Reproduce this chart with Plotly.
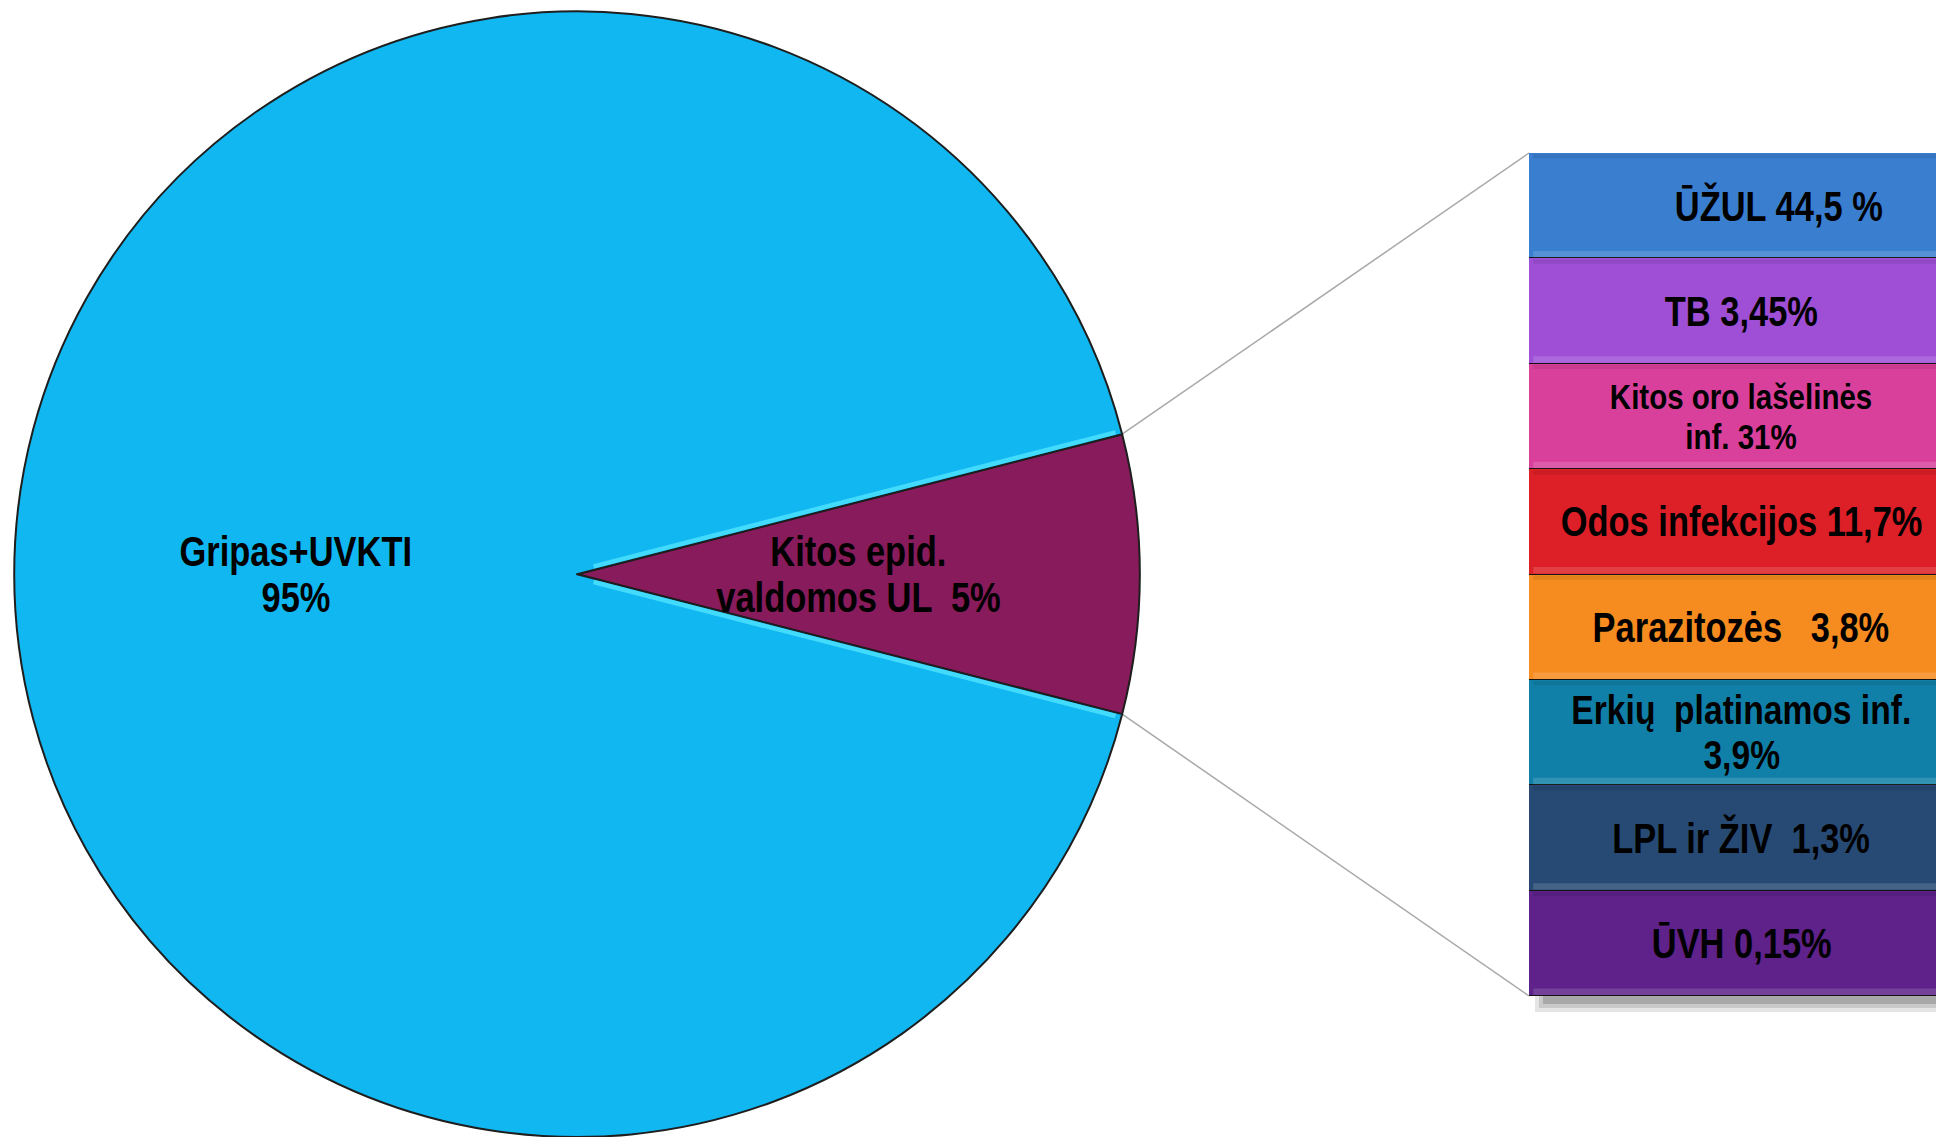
import math
import plotly.graph_objects as go

W, H = 1936, 1137

# ---------------- data ----------------
pie_labels = ["Kitos epid. valdomos UL", "Gripas+UVKTI"]
pie_values = [8, 92]                      # slice sizes as drawn in the picture
pie_text_lines = [["Kitos epid.", "valdomos UL  5%"], ["Gripas+UVKTI", "95%"]]
pie_colors = ["#871B5B", "#11B7F1"]

bar_categories = ["ŪŽUL", "TB", "Kitos oro lašelinės inf.", "Odos infekcijos",
                  "Parazitozės", "Erkių platinamos inf.", "LPL ir ŽIV", "ŪVH"]
bar_text_lines = [["ŪŽUL 44,5 %"], ["TB 3,45%"], ["Kitos oro lašelinės", "inf. 31%"],
                  ["Odos infekcijos 11,7%"], ["Parazitozės   3,8%"],
                  ["Erkių  platinamos inf.", "3,9%"], ["LPL ir ŽIV  1,3%"], ["ŪVH 0,15%"]]
bar_units = [1, 1, 1, 1, 1, 1, 1, 1]      # segments drawn with equal height
bar_colors = ["#3A7ED0", "#9E4FD6", "#D9409B", "#DD1F27",
              "#F68B1F", "#1180A8", "#274A74", "#5E228A"]
bar_font_sizes = [42, 42, 36, 42, 42, 41, 42, 42]
bar_text_xshift = [38, 0, 0, 0, 0, 0, 0, 0]

FONT = "Liberation Sans Narrow, Arial Narrow, Liberation Sans, Arial, sans-serif"
LINE_GAP = 1.1          # line spacing in em for multi-line labels
SQUEEZE = 0.82          # horizontal compression to mimic a narrow face

# ---------------- layout geometry ----------------
pie_dom_x = [0.0057, 0.5904]
pie_dom_y = [0.0, 0.99]
bar_dom_x = [1529 / W, 1.0]
bar_dom_y = [1 - 996 / H, 1 - 153 / H]
bar_px_width = 424

share = pie_values[0] / sum(pie_values)
half_angle = math.pi * share
rotation = 90 - math.degrees(half_angle)

fig = go.Figure()

fig.add_trace(go.Pie(
    labels=pie_labels, values=pie_values, sort=False, direction="clockwise",
    rotation=rotation, textinfo="none", hoverinfo="label+value",
    marker=dict(colors=pie_colors, line=dict(color="#1E1E1E", width=2)),
    domain=dict(x=pie_dom_x, y=pie_dom_y), showlegend=False,
))

for i, cat in enumerate(bar_categories):
    fig.add_trace(go.Bar(
        x=[0], y=[bar_units[i]], name=cat, xaxis="x2", yaxis="y2",
        width=1, marker=dict(color=bar_colors[i], line=dict(color="#141414", width=1.5)),
        showlegend=False, hoverinfo="name",
    ))

# pie geometry in pixels
cx = (pie_dom_x[0] + pie_dom_x[1]) / 2 * W
cy = H * (1 - (pie_dom_y[0] + pie_dom_y[1]) / 2)
r = min(W * (pie_dom_x[1] - pie_dom_x[0]), H * (pie_dom_y[1] - pie_dom_y[0])) / 2


def line_shifts(n, size):
    gap = LINE_GAP * size
    return [((n - 1) / 2 - k) * gap for k in range(n)]


annotations = []
PIE_SIZE = 42
bis = [0.0, math.pi]
for lines, a in zip(pie_text_lines, bis):
    px = cx + 0.5 * r * math.cos(a)
    py = cy - 0.5 * r * math.sin(a)
    for t, ys in zip(lines, line_shifts(len(lines), PIE_SIZE)):
        annotations.append(dict(x=px / W, y=1 - py / H, xref="paper", yref="paper",
                                text="<b>" + t + "</b>", showarrow=False, yshift=ys,
                                font=dict(family=FONT, size=PIE_SIZE, color="black"),
                                xanchor="center", yanchor="middle"))

cum = 0
for i, lines in enumerate(bar_text_lines):
    for t, ys in zip(lines, line_shifts(len(lines), bar_font_sizes[i])):
        annotations.append(dict(x=0, y=cum + bar_units[i] / 2, xref="x2", yref="y2",
                                text="<b>" + t + "</b>", showarrow=False,
                                xshift=bar_text_xshift[i], yshift=ys,
                                font=dict(family=FONT, size=bar_font_sizes[i], color="black"),
                                xanchor="center", yanchor="middle"))
    cum += bar_units[i]

shapes = []
# connector lines from the small slice edges to the bar corners
for sgn, by in [(1, bar_dom_y[1]), (-1, bar_dom_y[0])]:
    px = cx + r * math.cos(half_angle)
    py = cy - sgn * r * math.sin(half_angle)
    shapes.append(dict(type="line", xref="paper", yref="paper",
                       x0=px / W, y0=1 - py / H, x1=bar_dom_x[0], y1=by,
                       line=dict(color="#A8A8A8", width=1.5), layer="below"))
# bevel highlight on the big slice alongside the small slice
for sgn in (1, -1):
    ang = sgn * half_angle
    nx, ny = -math.sin(ang) * sgn, math.cos(ang) * sgn   # outward normal (math coords)
    off = 3.5
    x0p = cx + 18 * math.cos(ang) + off * nx
    y0p = cy - (18 * math.sin(ang) + off * ny)
    x1p = cx + (r - 6) * math.cos(ang) + off * nx
    y1p = cy - ((r - 6) * math.sin(ang) + off * ny)
    shapes.append(dict(type="line", xref="paper", yref="paper",
                       x0=x0p / W, y0=1 - y0p / H, x1=x1p / W, y1=1 - y1p / H,
                       line=dict(color="rgba(80,228,255,0.8)", width=4.5), layer="above"))
# bevel strips on the bar segments
cum = 0
for u in bar_units:
    shapes.append(dict(type="rect", xref="x2", yref="y2", x0=-0.49, x1=0.5,
                       y0=cum + u - 0.07 * u, y1=cum + u - 0.01 * u,
                       fillcolor="rgba(255,255,255,0.14)", line=dict(width=0), layer="above"))
    shapes.append(dict(type="rect", xref="x2", yref="y2", x0=-0.49, x1=0.5,
                       y0=cum + 0.01 * u, y1=cum + 0.05 * u,
                       fillcolor="rgba(0,0,0,0.08)", line=dict(width=0), layer="above"))
    cum += u
# soft shadow under the bar
for k, alpha in enumerate([0.10, 0.12, 0.16]):
    shapes.append(dict(type="rect", xref="paper", yref="paper",
                       x0=(1535 + 4 * k) / W, x1=1.0,
                       y0=1 - (1012 - 4 * k) / H, y1=bar_dom_y[0],
                       fillcolor=f"rgba(0,0,0,{alpha})", line=dict(width=0), layer="below"))

fig.update_layout(
    width=W, height=H, autosize=False,
    margin=dict(l=0, r=0, t=0, b=0),
    paper_bgcolor="white", plot_bgcolor="rgba(0,0,0,0)",
    barmode="stack", bargap=0,
    xaxis2=dict(domain=bar_dom_x, range=[-0.5, -0.5 + (W - 1529) / bar_px_width],
                visible=False, fixedrange=True, anchor="y2"),
    yaxis2=dict(domain=bar_dom_y, range=[sum(bar_units), 0],
                visible=False, fixedrange=True, anchor="x2"),
    xaxis=dict(visible=False), yaxis=dict(visible=False),
    annotations=annotations, shapes=shapes,
)

post = """
var gd = document.getElementById('{plot_id}');
function squeeze() {
  var ts = gd.querySelectorAll('text.annotation-text');
  ts.forEach(function (t) {
    t.removeAttribute('transform');
    var b = t.getBBox();
    var c = b.x + b.width / 2;
    t.setAttribute('transform', 'translate(' + c + ',0) scale(%s,1) translate(' + (-c) + ',0)');
  });
}
squeeze();
gd.on('plotly_afterplot', squeeze);
""" % SQUEEZE

fig.write_html("out.html", post_script=post)
